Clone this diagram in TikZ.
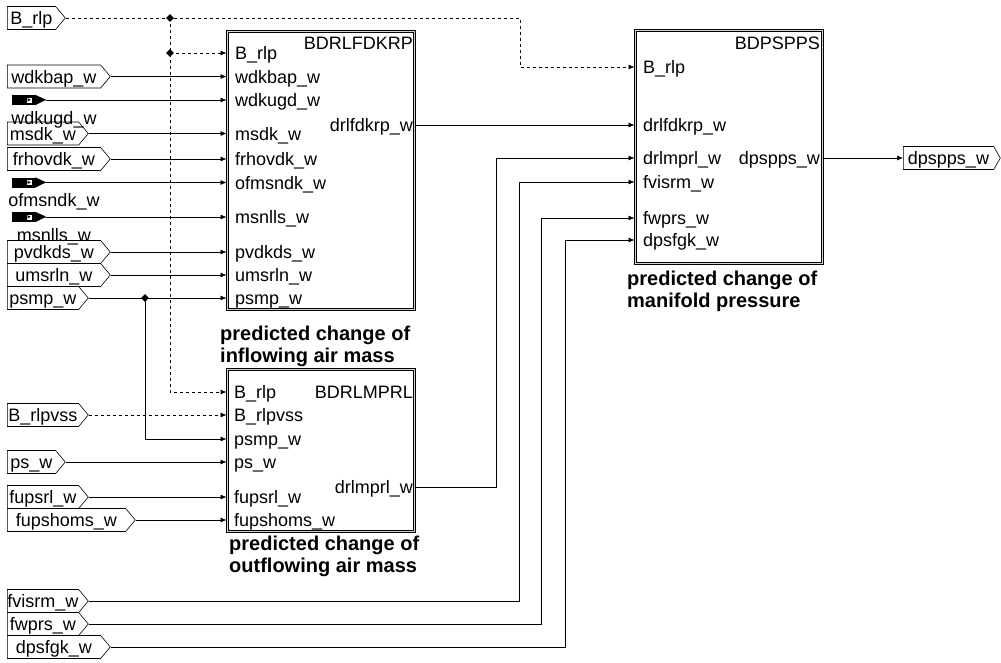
\documentclass[tikz,border=0pt]{standalone}
\usepackage{fontspec}
\setmainfont{Liberation Sans}
\usetikzlibrary{arrows.meta,positioning,calc,shapes.geometric,shapes.symbols}

\begin{document}
\begin{tikzpicture}[x=1pt,y=-1pt,
  every node/.style={font=\fontsize{18}{20}\selectfont},
  port/.style={draw,signal,signal to=east,signal pointer angle=100,minimum height=23pt,
    inner sep=0pt,anchor=west,line width=0.6pt,text height=13pt,text depth=0pt},
  blk/.style={draw=black,double=gray!35,double distance=1pt,line width=1pt,inner sep=0pt},
  pin/.style={anchor=west,inner sep=0pt,text height=13pt,text depth=0pt},
  pout/.style={anchor=east,inner sep=0pt,text height=13pt,text depth=0pt},
  kbody/.style={fill=black,minimum width=23pt,minimum height=10pt,inner sep=0pt},
  captxt/.style={anchor=north west,align=left,inner sep=0pt,font=\fontsize{20}{22}\selectfont\bfseries},
  jn/.style={diamond,fill=black,inner sep=0pt,minimum size=8pt},
  sig/.style={-{Latex[length=6pt,width=5pt]},line width=0.6pt},
  dsh/.style={sig,dash pattern=on 3pt off 3pt}]
 \useasboundingbox (0,0) rectangle (1001,662);
 % blocks
 \node[blk,minimum width=187pt,minimum height=278pt] (fd) at (320.5,170) {};
 \node[blk,minimum width=187pt,minimum height=162pt] (md) at (320.5,450) {};
 \node[blk,minimum width=187pt,minimum height=233pt] (ps) at (728.5,146.5) {};
 \node[pout] at (413,43) {BDRLFDKRP};
 \node[pout] at (413,392) {BDRLMPRL};
 \node[pout] at (820,43) {BDPSPPS};
 \node[captxt] at (220,326) {predicted change of\\inflowing air mass};
 \node[captxt] at (229,536) {predicted change of\\outflowing air mass};
 \node[captxt] at (627,271) {predicted change of\\manifold pressure};
 % block pins
 \foreach \i/\t/\y in {1/B\_rlp/53,2/wdkbap\_w/76.5,3/wdkugd\_w/100,4/msdk\_w/133.5,
   5/frhovdk\_w/159,6/ofmsndk\_w/182.5,7/msnlls\_w/217,8/pvdkds\_w/252,
   9/umsrln\_w/275,10/psmp\_w/298}
   \node[pin] (f\i) at (235,\y) {\t};
 \foreach \i/\t/\y in {1/B\_rlp/392,2/B\_rlpvss/415,3/psmp\_w/439,4/ps\_w/462,
   5/fupsrl\_w/497,6/fupshoms\_w/520}
   \node[pin] (m\i) at (234,\y) {\t};
 \foreach \i/\t/\y in {1/B\_rlp/67,2/drlfdkrp\_w/125,3/drlmprl\_w/158,4/fvisrm\_w/182,
   5/fwprs\_w/218,6/dpsfgk\_w/240}
   \node[pin] (s\i) at (643,\y) {\t};
 \node[pout] (fo) at (413,125) {drlfdkrp\_w};
 \node[pout] (mo) at (413,487) {drlmprl\_w};
 \node[pout] (so) at (820,158) {dpspps\_w};
 % input ports
 \foreach \n/\t/\y/\w in {brlp/B\_rlp/18/58,wdkbap/wdkbap\_w/76.5/103,msdk/msdk\_w/133.5/81,
   frhovdk/frhovdk\_w/159/103,pvdkds/pvdkds\_w/252/103,umsrln/umsrln\_w/275/103,
   psmp/psmp\_w/298/81,brlpvss/B\_rlpvss/415/81,psw/ps\_w/462/58,fupsrl/fupsrl\_w/497/81,
   fupshoms/fupshoms\_w/520/128,fvisrm/fvisrm\_w/601/81,fwprs/fwprs\_w/624/81,
   dpsfgk/dpsfgk\_w/647/103}
   \node[port,minimum width=\w pt] (p\n) at (7,\y) {\t};
 \node[port,signal pointer angle=120,minimum width=97pt] (pdpspps) at (903,158) {dpspps\_w};
 % constants
 \foreach \i/\t/\y in {1/wdkugd\_w/100,2/ofmsndk\_w/182.5,3/msnlls\_w/217} {
   \node[kbody] (k\i) at (23.5,\y) {};
   \node[fill=white,draw=black,line width=0.4pt,minimum size=6pt,inner sep=0pt] (kw\i)
     at ($(k\i.east)+(-6,0)$) {};
   \fill (kw\i.north west) ++(1.5,1.3) -- ++(3.2,1.7) -- ++(-3.2,1.7) -- cycle;
   \fill (k\i.north east) -- ++(11,5) -- (k\i.south east) -- cycle;
   \coordinate (kt\i) at ($(k\i.east)+(11,0)$);
   \node[anchor=base,inner sep=0pt] (kl\i) at (54,\y+24) {\t};
 }
 % bend points
 \foreach \v/\x in {v0/520,v1/496,v2/519,v3/541,v4/565}
   \coordinate (\v) at (\x,0);
 \coordinate (j1c) at (170,18);
 % dashed B_rlp lines
 \draw[dsh] (pbrlp.east) -| (v0 |- s1) -- (s1 -| ps.west);
 \draw[dsh] (j1c) |- (m1 -| md.west);
 \draw[dsh] (j1c |- f1) -- (f1 -| fd.west);
 \draw[dsh] (pbrlpvss.east) -- (m2 -| md.west);
 % inputs of BDRLFDKRP
 \foreach \n/\i in {wdkbap/2,msdk/4,frhovdk/5,pvdkds/8,umsrln/9,psmp/10}
   \draw[sig] (p\n.east) -- (f\i -| fd.west);
 \foreach \k/\i in {1/3,2/6,3/7}
   \draw[sig] (kt\k) -- (f\i -| fd.west);
 % inputs of BDRLMPRL
 \coordinate (j3c) at (145,298);
 \draw[sig] (j3c) |- (m3 -| md.west);
 \foreach \n/\i in {psw/4,fupsrl/5,fupshoms/6}
   \draw[sig] (p\n.east) -- (m\i -| md.west);
 % inputs of BDPSPPS
 \draw[sig] (fd.east |- fo) -- (s2 -| ps.west);
 \draw[sig] (md.east |- mo) -| (v1 |- s3) -- (s3 -| ps.west);
 \draw[sig] (pfvisrm.east) -| (v2 |- s4) -- (s4 -| ps.west);
 \draw[sig] (pfwprs.east) -| (v3 |- s5) -- (s5 -| ps.west);
 \draw[sig] (pdpsfgk.east) -| (v4 |- s6) -- (s6 -| ps.west);
 \draw[sig] (ps.east |- so) -- (pdpspps.west);
 % junctions
 \node[jn] (j1) at (j1c) {};
 \node[jn] (j2) at (j1c |- f1) {};
 \node[jn] (j3) at (j3c) {};
\end{tikzpicture}
\end{document}
